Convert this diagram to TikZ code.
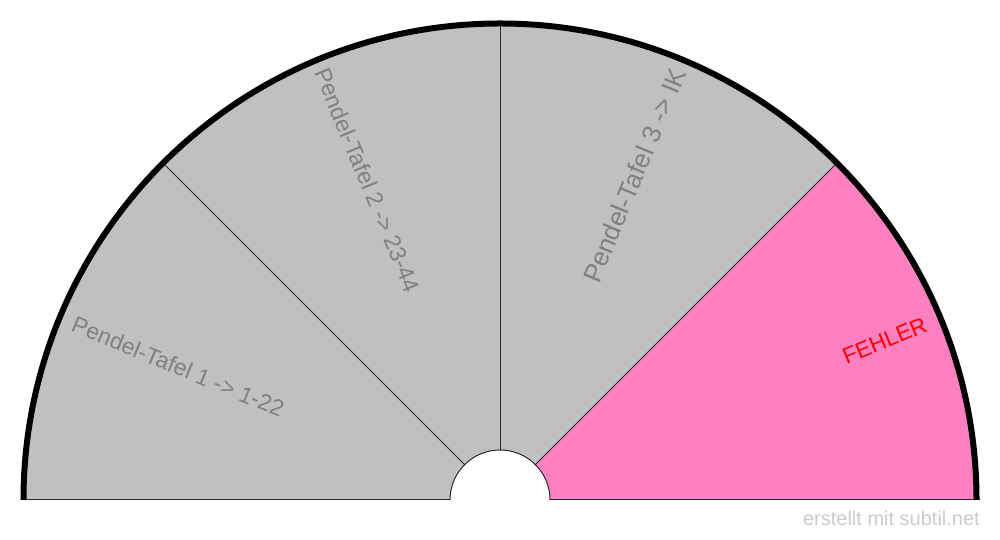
\documentclass[tikz,border=0pt]{standalone}
\usepackage{fontspec}
\setmainfont{Liberation Sans}
\definecolor{sgray}{RGB}{192,192,192}
\definecolor{spink}{RGB}{255,128,192}
\definecolor{lblgray}{RGB}{128,128,128}
\definecolor{footgray}{RGB}{204,204,204}
\definecolor{lineclr}{RGB}{40,40,40}
\tikzset{
  lbl/.style={font=\fontsize{23}{27}\selectfont, text=lblgray, inner sep=0pt},
  biglbl/.style={font=\fontsize{26}{30}\selectfont, text=lblgray, inner sep=0pt},
  errlbl/.style={font=\fontsize{22.5}{27}\selectfont, text=red, inner sep=0pt},
  divline/.style={draw=lineclr, line width=1pt},
  rim/.style={draw=black, line width=6pt},
}
\begin{document}
\begin{tikzpicture}[x=1pt,y=1pt]
\useasboundingbox (0,0) rectangle (1000,540);
\begin{scope}[shift={(500,40)}]
  \coordinate (c) at (0,0);
  \fill[sgray] (c) -- (180:476.5) arc[start angle=180,end angle=45,radius=476.5] -- cycle;
  \fill[spink] (c) -- (45:476.5) arc[start angle=45,end angle=0,radius=476.5] -- cycle;
  \fill[white] (50,0) arc[start angle=0,end angle=180,radius=50] -- cycle;
  \draw[divline] (50,0) arc[start angle=0,end angle=180,radius=50];
  \foreach \a in {135,90,45} {
    \draw[divline] (\a:50) -- (\a:476.5);
  }
  \draw[divline] (-479.5,0) -- (-50,0);
  \draw[divline] (50,0) -- (479.5,0);
  \draw[rim] (180:476.5) arc[start angle=180,end angle=0,radius=476.5];
  \node[lbl, rotate=-22.5, anchor=west] (l1) at (157.5:462) {Pendel-Tafel 1 -> 1-22};
  \node[lbl, rotate=-67.5, anchor=west] (l2) at (112.5:466) {Pendel-Tafel 2 -> 23-44};
  \node[biglbl, rotate=67.5, anchor=east] (l3) at (67.5:466) {Pendel-Tafel 3 -> IK};
  \node[errlbl, rotate=22.5, anchor=east] (l4) at (22.5:461) {FEHLER};
\end{scope}
\node[anchor=base east, inner sep=0pt, text=footgray, font=\fontsize{20}{24}\selectfont] (foot) at (980,14) {erstellt mit subtil.net};
\end{tikzpicture}
\end{document}
